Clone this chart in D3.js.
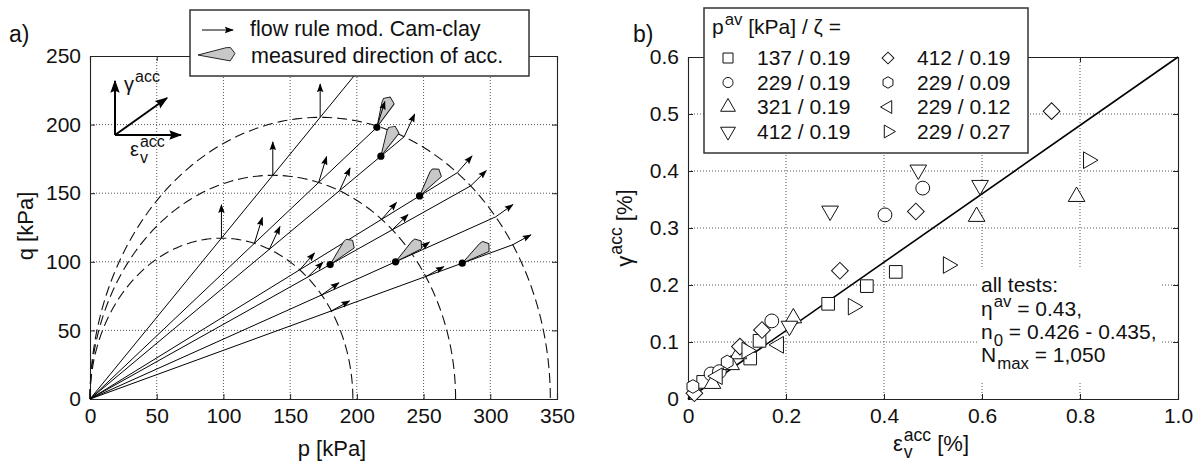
<!DOCTYPE html>
<html>
<head>
<meta charset="utf-8">
<script src="https://cdn.jsdelivr.net/npm/d3@7"></script>
<style>
  body { margin: 0; background: #fff; }
  svg { font-family: "Liberation Sans", Arial, Helvetica, sans-serif; }
</style>
</head>
<body>
<svg id="chart" width="1196" height="467"></svg>
<script>
// ---- a) stress space p-q with flow rule of mod. Cam-clay ----
const pTicks = [0, 50, 100, 150, 200, 250, 300, 350];
const qTicks = [0, 50, 100, 150, 200, 250];
const M = 1.19;                          // slope of critical state line
const yieldPc = [197, 274, 345];         // dashed yield surfaces, p at q = 0
const testP = [180, 229, 279, 247, 218, 215];
const testQ = [98, 100, 99, 148, 177, 198];
const measuredDeg = [45, 37, 34, 52, 62, 64];   // measured direction of acc. (deg)

// ---- b) gamma_acc vs eps_v_acc ----
const epsTicks = [0, 0.2, 0.4, 0.6, 0.8, 1.0];
const gamTicks = [0, 0.1, 0.2, 0.3, 0.4, 0.5, 0.6];
const fitSlope = 0.6;
const seriesLabels = ["137 / 0.19", "229 / 0.19", "321 / 0.19", "412 / 0.19",
                      "412 / 0.19", "229 / 0.09", "229 / 0.12", "229 / 0.27"];
const seriesSymbols = ["square", "circle", "triUp", "triDown", "diamond", "hexagon", "triLeft", "triRight"];
const sqEps   = [0.031, 0.127, 0.146, 0.286, 0.365, 0.424];
const sqGam   = [0.030, 0.071, 0.102, 0.167, 0.198, 0.223];
const ciEps   = [0.047, 0.064, 0.171, 0.402, 0.479];
const ciGam   = [0.044, 0.048, 0.137, 0.323, 0.370];
const tuEps   = [0.050, 0.088, 0.103, 0.215, 0.589, 0.793];
const tuGam   = [0.027, 0.060, 0.079, 0.142, 0.320, 0.355];
const tdEps   = [0.207, 0.290, 0.470, 0.596];
const tdGam   = [0.128, 0.330, 0.402, 0.375];
const diEps   = [0.013, 0.106, 0.151, 0.310, 0.465, 0.742];
const diGam   = [0.010, 0.092, 0.121, 0.225, 0.329, 0.505];
const hxEps   = [0.010, 0.080];
const hxGam   = [0.022, 0.065];
const tlEps   = [0.060, 0.185];
const tlGam   = [0.040, 0.095];
const trEps   = [0.120, 0.337, 0.531, 0.817];
const trGam   = [0.085, 0.162, 0.235, 0.419];
const seriesEps = [sqEps, ciEps, tuEps, tdEps, diEps, hxEps, tlEps, trEps];
const seriesGam = [sqGam, ciGam, tuGam, tdGam, diGam, hxGam, tlGam, trGam];

const svg = d3.select("#chart");
const fontTick = 21;
const flowK = 14;   // px per unit of flow vector

// ARROW HEADS
const defs = svg.append("defs");
const addHead = (id, size) => defs.append("marker")
    .attr("id", id)
    .attr("viewBox", "0 -5 10 10")
    .attr("refX", 9).attr("refY", 0)
    .attr("markerWidth", size).attr("markerHeight", size)
    .attr("markerUnits", "userSpaceOnUse")
    .attr("orient", "auto")
  .append("path")
    .attr("d", "M0,-3.6L10,0L0,3.6L1.5,0Z")
    .attr("fill", "#000");
addHead("head", 9);
addHead("headBig", 13);

// text with super-/subscripts, parts: "txt" | {text, sup|sub} | [stacked parts]
const richText = (g, x0, y0, parts, size, anchor) => {
    const t = g.append("text").attr("font-size", size).attr("fill", "#111");
    let cx = 0;
    parts.forEach(part => {
        const items = Array.isArray(part) ? part : [part];
        let adv = 0;
        items.forEach(it => {
            const s = typeof it === "string" ? {text: it} : it;
            const small = s.sup || s.sub;
            const ts = t.append("tspan")
                .attr("x", cx + (small ? 1 : 0))
                .attr("y", s.sup ? -size * 0.45 : s.sub ? size * 0.33 : 0)
                .attr("font-size", small ? size * 0.8 : size)
                .text(s.text);
            adv = Math.max(adv, ts.node().getComputedTextLength() + (small ? 1 : 0));
        });
        cx += adv;
    });
    const shift = anchor === "middle" ? -cx / 2 : anchor === "end" ? -cx : 0;
    t.attr("transform", `translate(${x0 + shift},${y0})`);
    return t;
};

// shared frame / grid / ticks
const drawFrame = (g, xs, ys, xTicks, yTicks, xFmt, yFmt) => {
    const [x0, x1] = xs.range();
    const [y0, y1] = ys.range();
    const inner = (arr) => arr.slice(1, -1);

    g.selectAll(".gx").data(inner(xTicks)).join("line")
        .attr("x1", d => xs(d)).attr("x2", d => xs(d))
        .attr("y1", y0).attr("y2", y1)
        .attr("stroke", "#555").attr("stroke-width", 1).attr("stroke-dasharray", "1,2");
    g.selectAll(".gy").data(inner(yTicks)).join("line")
        .attr("y1", d => ys(d)).attr("y2", d => ys(d))
        .attr("x1", x0).attr("x2", x1)
        .attr("stroke", "#555").attr("stroke-width", 1).attr("stroke-dasharray", "1,2");

    g.append("g").attr("transform", `translate(0,${y0})`)
        .call(d3.axisBottom(xs).tickValues(xTicks).tickSize(-5).tickPadding(9).tickFormat(xFmt));
    g.append("g").attr("transform", `translate(${x0},0)`)
        .call(d3.axisLeft(ys).tickValues(yTicks).tickSize(-5).tickPadding(9).tickFormat(yFmt));
    g.append("g").attr("transform", `translate(0,${y1})`)
        .call(d3.axisTop(xs).tickValues(xTicks).tickSize(-5).tickFormat(""));
    g.append("g").attr("transform", `translate(${x1},0)`)
        .call(d3.axisRight(ys).tickValues(yTicks).tickSize(-5).tickFormat(""));

    g.selectAll(".domain").attr("stroke", "#222").attr("stroke-width", 1.1);
    g.selectAll(".tick line").attr("stroke", "#222");
    g.selectAll(".tick text").attr("font-size", fontTick).attr("fill", "#111")
        .attr("font-family", "Liberation Sans, Arial, sans-serif");
};

// =================== a) ===================
const x = d3.scaleLinear().domain([0, 350]).range([90, 557]);
const y = d3.scaleLinear().domain([0, 250]).range([399, 56]);
const ga = svg.append("g");
drawFrame(ga, x, y, pTicks, qTicks, d3.format("d"), d3.format("d"));

// dashed yield surfaces
const ellipse = d3.line().x(t => t[0]).y(t => t[1]);
yieldPc.forEach(pc => {
    const pts = d3.range(0, 181).map(a => {
        const th = a * Math.PI / 180;
        return [x(pc / 2 * (1 - Math.cos(th))), y(M * pc / 2 * Math.sin(th))];
    });
    ga.append("path").attr("d", ellipse(pts))
        .attr("fill", "none").attr("stroke", "#111").attr("stroke-width", 1.1)
        .attr("stroke-dasharray", "10,5");
});

const pcMax = d3.max(yieldPc);
const cross = (eta, pc) => M * M * pc / (M * M + eta * eta);
const flow = eta => [M * M - eta * eta, 2 * eta];

// radial stress paths
const etas = testP.map((p, i) => testQ[i] / p);
etas.forEach((eta, i) => {
    const pEnd = Math.max(testP[i], cross(eta, pcMax));
    ga.append("line")
        .attr("x1", x(0)).attr("y1", y(0))
        .attr("x2", x(pEnd)).attr("y2", y(eta * pEnd))
        .attr("stroke", "#000").attr("stroke-width", 1);
});
// critical state line
ga.append("line")
    .attr("x1", x(0)).attr("y1", y(0))
    .attr("x2", x(250 / M)).attr("y2", y(250))
    .attr("stroke", "#000").attr("stroke-width", 1);

// flow arrows where the paths cross the yield surfaces
const drawFlow = (p, q, eta) => {
    const [dv, dg] = flow(eta);
    ga.append("line")
        .attr("x1", x(p)).attr("y1", y(q))
        .attr("x2", x(p) + flowK * dv).attr("y2", y(q) - flowK * dg)
        .attr("stroke", "#000").attr("stroke-width", 1)
        .attr("marker-end", "url(#head)");
};
[...etas, M].forEach(eta => {
    yieldPc.forEach(pc => {
        const p = cross(eta, pc);
        drawFlow(p, eta * p, eta);
    });
});

// measured directions
const shape = [[0, 0], [0.77, -0.2], [0.88, -0.2], [1, -0.04], [0.87, 0.16]];
const shapePath = (L) => "M" + shape.map(d => [d[0] * L, d[1] * L].join(",")).join("L") + "Z";
testP.forEach((p, i) => {
    ga.append("path")
        .attr("d", shapePath(33))
        .attr("transform", `translate(${x(p)},${y(testQ[i])}) rotate(${-measuredDeg[i]})`)
        .attr("fill", "#c8c8c8").attr("stroke", "#111").attr("stroke-width", 0.9);
});
// flow arrow at the point lying on the outer surface drawn again on top
etas.forEach((eta, i) => {
    if (Math.abs(cross(eta, pcMax) - testP[i]) < 3) drawFlow(testP[i], testQ[i], eta);
});
ga.selectAll(".dot").data(testP).join("circle")
    .attr("cx", d => x(d)).attr("cy", (d, i) => y(testQ[i]))
    .attr("r", 3.6).attr("fill", "#000");

// inset axes
const inset = ga.append("g").attr("stroke", "#000").attr("stroke-width", 2);
inset.append("line").attr("x1", 115).attr("y1", 135).attr("x2", 115).attr("y2", 81).attr("marker-end", "url(#headBig)");
inset.append("line").attr("x1", 115).attr("y1", 135).attr("x2", 181).attr("y2", 135).attr("marker-end", "url(#headBig)");
inset.append("line").attr("x1", 115).attr("y1", 135).attr("x2", 167).attr("y2", 98).attr("marker-end", "url(#headBig)");
richText(ga, 124, 91, ["γ", {text: "acc", sup: true}], 20);
richText(ga, 130, 156, ["ε", [{text: "acc", sup: true}, {text: "v", sub: true}]], 20);

// axis titles
ga.append("text").attr("x", 332).attr("y", 456).attr("text-anchor", "middle")
    .attr("font-size", 22).attr("fill", "#111").text("p [kPa]");
ga.append("text").attr("transform", "translate(33,226) rotate(-90)").attr("text-anchor", "middle")
    .attr("font-size", 22).attr("fill", "#111").text("q [kPa]");
ga.append("text").attr("x", 9).attr("y", 42).attr("font-size", 23).attr("fill", "#111").text("a)");

// legend a)
const lga = ga.append("g");
lga.append("rect").attr("x", 190).attr("y", 10).attr("width", 339).attr("height", 66)
    .attr("fill", "#fff").attr("stroke", "#333").attr("stroke-width", 1.5);
lga.append("line").attr("x1", 202).attr("y1", 30).attr("x2", 233).attr("y2", 30)
    .attr("stroke", "#000").attr("stroke-width", 1).attr("marker-end", "url(#head)");
lga.append("path").attr("d", shapePath(37)).attr("transform", "translate(198,55)")
    .attr("fill", "#c8c8c8").attr("stroke", "#111").attr("stroke-width", 0.9);
lga.append("text").attr("x", 250).attr("y", 36).attr("font-size", 21.5).attr("fill", "#111")
    .text("flow rule mod. Cam-clay");
lga.append("text").attr("x", 251).attr("y", 63).attr("font-size", 21.5).attr("fill", "#111")
    .text("measured direction of acc.");

// =================== b) ===================
const xb = d3.scaleLinear().domain([0, 1]).range([688, 1178]);
const yb = d3.scaleLinear().domain([0, 0.6]).range([399, 57]);
const gb = svg.append("g");
const fmt1 = d => d === 0 ? "0" : d3.format(".1f")(d);
drawFrame(gb, xb, yb, epsTicks, gamTicks, fmt1, fmt1);

// white box behind the note
gb.append("rect").attr("x", 978).attr("y", 268).attr("width", 184).attr("height", 115).attr("fill", "#fff");

gb.append("line")
    .attr("x1", xb(0)).attr("y1", yb(0))
    .attr("x2", xb(1)).attr("y2", yb(fitSlope * 1))
    .attr("stroke", "#000").attr("stroke-width", 1.6);

const hexagon = {
    draw(ctx, size) {
        const r = Math.sqrt(size / (1.5 * Math.sqrt(3)));
        for (let i = 0; i < 6; i++) {
            const a = Math.PI / 2 + i * Math.PI / 3;
            i ? ctx.lineTo(r * Math.cos(a), r * Math.sin(a)) : ctx.moveTo(r * Math.cos(a), r * Math.sin(a));
        }
        ctx.closePath();
    }
};
const symbolSpec = {
    square:   {type: d3.symbolSquare,   rot: 0,   size: 160, leg: 100},
    circle:   {type: d3.symbolCircle,   rot: 0,   size: 150, leg: 80},
    triUp:    {type: d3.symbolTriangle, rot: 0,   size: 120, leg: 95},
    triDown:  {type: d3.symbolTriangle, rot: 180, size: 120, leg: 95},
    diamond:  {type: d3.symbolSquare,   rot: 45,  size: 140, leg: 70},
    hexagon:  {type: hexagon,           rot: 0,   size: 120, leg: 85},
    triLeft:  {type: d3.symbolTriangle, rot: -90, size: 120, leg: 72},
    triRight: {type: d3.symbolTriangle, rot: 90,  size: 120, leg: 72}
};

seriesSymbols.forEach((s, k) => {
    const spec = symbolSpec[s];
    gb.append("g").selectAll("path")
        .data(seriesEps[k].map((e, i) => ({e, g: seriesGam[k][i]})))
        .join("path")
        .attr("d", d3.symbol().type(spec.type).size(spec.size))
        .attr("transform", d => `translate(${xb(d.e)},${yb(d.g)}) rotate(${spec.rot})`)
        .attr("fill", "#fff").attr("stroke", "#111").attr("stroke-width", 1);
});

// legend b)
const lgb = gb.append("g");
lgb.append("rect").attr("x", 704).attr("y", 8).attr("width", 324).attr("height", 145)
    .attr("fill", "#fff").attr("stroke", "#333").attr("stroke-width", 1.5);
richText(lgb, 712, 34, ["p", {text: "av", sup: true}, " [kPa] / ζ ="], 21);
seriesSymbols.forEach((s, k) => {
    const spec = symbolSpec[s];
    const col = Math.floor(k / 4), row = k % 4;
    const cx = col ? 888 : 728;
    const by = 65 + row * 24.5;
    lgb.append("path")
        .attr("d", d3.symbol().type(spec.type).size(spec.leg))
        .attr("transform", `translate(${cx},${by - 7}) rotate(${spec.rot})`)
        .attr("fill", "#fff").attr("stroke", "#111").attr("stroke-width", 1);
    lgb.append("text").attr("x", cx + 29).attr("y", by).attr("font-size", 21).attr("fill", "#111")
        .text(seriesLabels[k]);
});

// note
gb.append("text").attr("x", 981).attr("y", 292).attr("font-size", 21).attr("fill", "#111").text("all tests:");
richText(gb, 981, 316, ["η", {text: "av", sup: true}, " = 0.43,"], 21);
richText(gb, 981, 339, ["n", {text: "0", sub: true}, " = 0.426 - 0.435,"], 21);
richText(gb, 981, 362, ["N", {text: "max", sub: true}, " = 1,050"], 21);

// axis titles b)
richText(gb, 931, 451, ["ε", [{text: "acc", sup: true}, {text: "v", sub: true}], " [%]"], 22, "middle");
const yt = gb.append("g").attr("transform", "translate(632,228) rotate(-90)");
richText(yt, 0, 0, ["γ", {text: "acc", sup: true}, " [%]"], 22, "middle");
gb.append("text").attr("x", 633).attr("y", 42).attr("font-size", 23).attr("fill", "#111").text("b)");
</script>
</body>
</html>
